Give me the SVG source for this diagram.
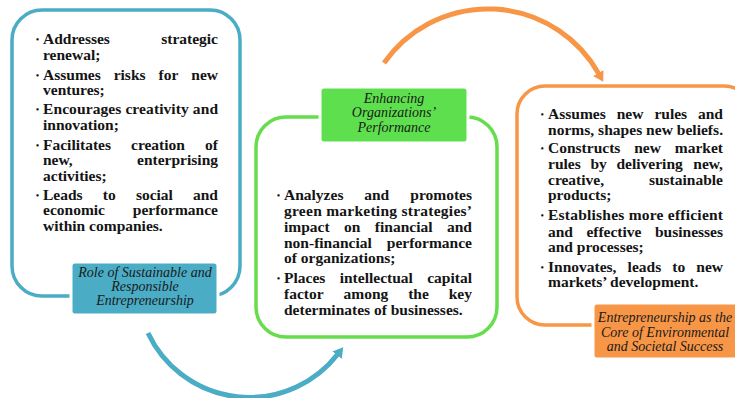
<svg xmlns="http://www.w3.org/2000/svg" width="735" height="398" viewBox="0 0 735 398">
  <defs>
    <style>
      .t{font-family:"Liberation Serif","Times New Roman",serif;font-weight:bold;font-size:15.5px;fill:#141414}
      .e{text-anchor:end}
      .b{font-family:"Liberation Serif","Times New Roman",serif;font-size:10px;fill:#141414;text-anchor:middle}
      .lab{font-family:"Liberation Serif","Times New Roman",serif;font-style:italic;font-size:14px;fill:#1a1a1a;text-anchor:middle}
      .frame{fill:none;stroke-width:3.5}
      .tag{stroke:#ffffff;stroke-width:3}
      .arc{fill:none;stroke-width:5}
    </style>
    <marker id="headBlue" viewBox="0 0 10 12" refX="1" refY="6" markerWidth="10" markerHeight="12" markerUnits="userSpaceOnUse" orient="auto">
      <path d="M0,0 L10,6 L0,12 z" fill="#4bacc6"/>
    </marker>
    <marker id="headOrange" viewBox="0 0 10 12" refX="1" refY="6" markerWidth="10" markerHeight="12" markerUnits="userSpaceOnUse" orient="auto">
      <path d="M0,0 L10,6 L0,12 z" fill="#f79646"/>
    </marker>
  </defs>

  <rect width="735" height="398" fill="#ffffff"/>

  <!-- curved connectors between the three stages -->
  <g id="connectors">
    <path class="arc" d="M148,333 A112,112 0 0 0 337.7,354.3" stroke="#4bacc6" marker-end="url(#headBlue)"/>
    <path class="arc" d="M384,63 A127,127 0 0 1 598.8,73.9" stroke="#f79646" marker-end="url(#headOrange)"/>
  </g>

  <!-- stage 1: sustainable and responsible entrepreneurship -->
  <g id="node-role">
    <rect class="frame" x="12" y="10" width="228" height="286" rx="30" stroke="#4bacc6"/>
    <text class="b" x="37.5" y="43">•</text>
    <text class="t" x="43" y="44">Addresses</text><text class="t e" x="218" y="44">strategic</text>
    <text class="t" x="43" y="60">renewal;</text>
    <text class="b" x="37.5" y="78.5">•</text>
    <text class="t" y="79.5"><tspan x="43">Assumes</tspan><tspan x="113.7">risks</tspan><tspan x="158.6">for</tspan></text><text class="t e" x="218" y="79.5">new</text>
    <text class="t" x="43" y="95">ventures;</text>
    <text class="b" x="37.5" y="113">•</text>
    <text class="t" x="43" y="114" textLength="175" lengthAdjust="spacing">Encourages creativity and</text>
    <text class="t" x="43" y="130">innovation;</text>
    <text class="b" x="37.5" y="148.5">•</text>
    <text class="t" y="149.5"><tspan x="43">Facilitates</tspan><tspan x="131">creation</tspan></text><text class="t e" x="218" y="149.5">of</text>
    <text class="t" x="43" y="165">new,</text><text class="t e" x="218" y="165">enterprising</text>
    <text class="t" x="43" y="180.5">activities;</text>
    <text class="b" x="37.5" y="198.5">•</text>
    <text class="t" y="199.5"><tspan x="43">Leads</tspan><tspan x="102.8">to</tspan><tspan x="135.9">social</tspan></text><text class="t e" x="218" y="199.5">and</text>
    <text class="t" x="43" y="215">economic</text><text class="t e" x="218" y="215">performance</text>
    <text class="t" x="43" y="231">within companies.</text>
    <rect class="tag" x="71" y="262" width="147" height="53" rx="4" fill="#4bacc6"/>
    <text class="lab" x="145" y="277">Role of Sustainable and</text>
    <text class="lab" x="145" y="291">Responsible</text>
    <text class="lab" x="145" y="305">Entrepreneurship</text>
  </g>

  <!-- stage 2: organizations' performance -->
  <g id="node-performance">
    <rect class="frame" x="256" y="117" width="241" height="220" rx="30" stroke="#66dd4c"/>
    <rect class="tag" x="320" y="87" width="148" height="56" rx="4" fill="#5ee04e"/>
    <text class="lab" x="394" y="102.5">Enhancing</text>
    <text class="lab" x="394" y="117">Organizations’</text>
    <text class="lab" x="394" y="132">Performance</text>
    <text class="b" x="278.5" y="199">•</text>
    <text class="t" y="200"><tspan x="284">Analyzes</tspan><tspan x="364.2">and</tspan></text><text class="t e" x="472" y="200">promotes</text>
    <text class="t" x="284" y="215.7" textLength="188" lengthAdjust="spacing">green marketing strategies’</text>
    <text class="t" y="231.7"><tspan x="284">impact</tspan><tspan x="344">on</tspan><tspan x="374.8">financial</tspan></text><text class="t e" x="472" y="231.7">and</text>
    <text class="t" x="284" y="247.7">non-financial</text><text class="t e" x="472" y="247.7">performance</text>
    <text class="t" x="284" y="263.3">of organizations;</text>
    <text class="b" x="278.5" y="282.3">•</text>
    <text class="t" y="283.3"><tspan x="284">Places</tspan><tspan x="339.7">intellectual</tspan></text><text class="t e" x="472" y="283.3">capital</text>
    <text class="t" y="299.3"><tspan x="284">factor</tspan><tspan x="343.5">among</tspan><tspan x="408.2">the</tspan></text><text class="t e" x="472" y="299.3">key</text>
    <text class="t" x="284" y="315">determinates of businesses.</text>
  </g>

  <!-- stage 3: environmental and societal success -->
  <g id="node-success">
    <rect class="frame" x="517" y="86" width="235" height="239" rx="28" stroke="#f79646"/>
    <text class="b" x="542.3" y="118">•</text>
    <text class="t" y="119"><tspan x="548">Assumes</tspan><tspan x="616.7">new</tspan><tspan x="654.4">rules</tspan></text><text class="t e" x="723" y="119">and</text>
    <text class="t" x="548" y="135" textLength="175" lengthAdjust="spacing">norms, shapes new beliefs.</text>
    <text class="b" x="542.3" y="152">•</text>
    <text class="t" y="153"><tspan x="548">Constructs</tspan><tspan x="634.2">new</tspan></text><text class="t e" x="723" y="153">market</text>
    <text class="t" y="169"><tspan x="548">rules</tspan><tspan x="590.4">by</tspan><tspan x="616.5">delivering</tspan></text><text class="t e" x="723" y="169">new,</text>
    <text class="t" x="548" y="184.5">creative,</text><text class="t e" x="723" y="184.5">sustainable</text>
    <text class="t" x="548" y="200">products;</text>
    <text class="b" x="542.3" y="219">•</text>
    <text class="t" x="548" y="220" textLength="175" lengthAdjust="spacing">Establishes more efficient</text>
    <text class="t" y="236.5"><tspan x="548">and</tspan><tspan x="586.4">effective</tspan></text><text class="t e" x="723" y="236.5">businesses</text>
    <text class="t" x="548" y="252">and processes;</text>
    <text class="b" x="542.3" y="270.5">•</text>
    <text class="t" y="271.5"><tspan x="548">Innovates,</tspan><tspan x="627.6">leads</tspan><tspan x="672.3">to</tspan></text><text class="t e" x="723" y="271.5">new</text>
    <text class="t" x="548" y="287">markets’ development.</text>
    <rect class="tag" x="593" y="303" width="150" height="56" rx="4" fill="#f79646"/>
    <text class="lab" x="665" y="322">Entrepreneurship as the</text>
    <text class="lab" x="665" y="336.5">Core of Environmental</text>
    <text class="lab" x="665" y="351">and Societal Success</text>
  </g>
</svg>
